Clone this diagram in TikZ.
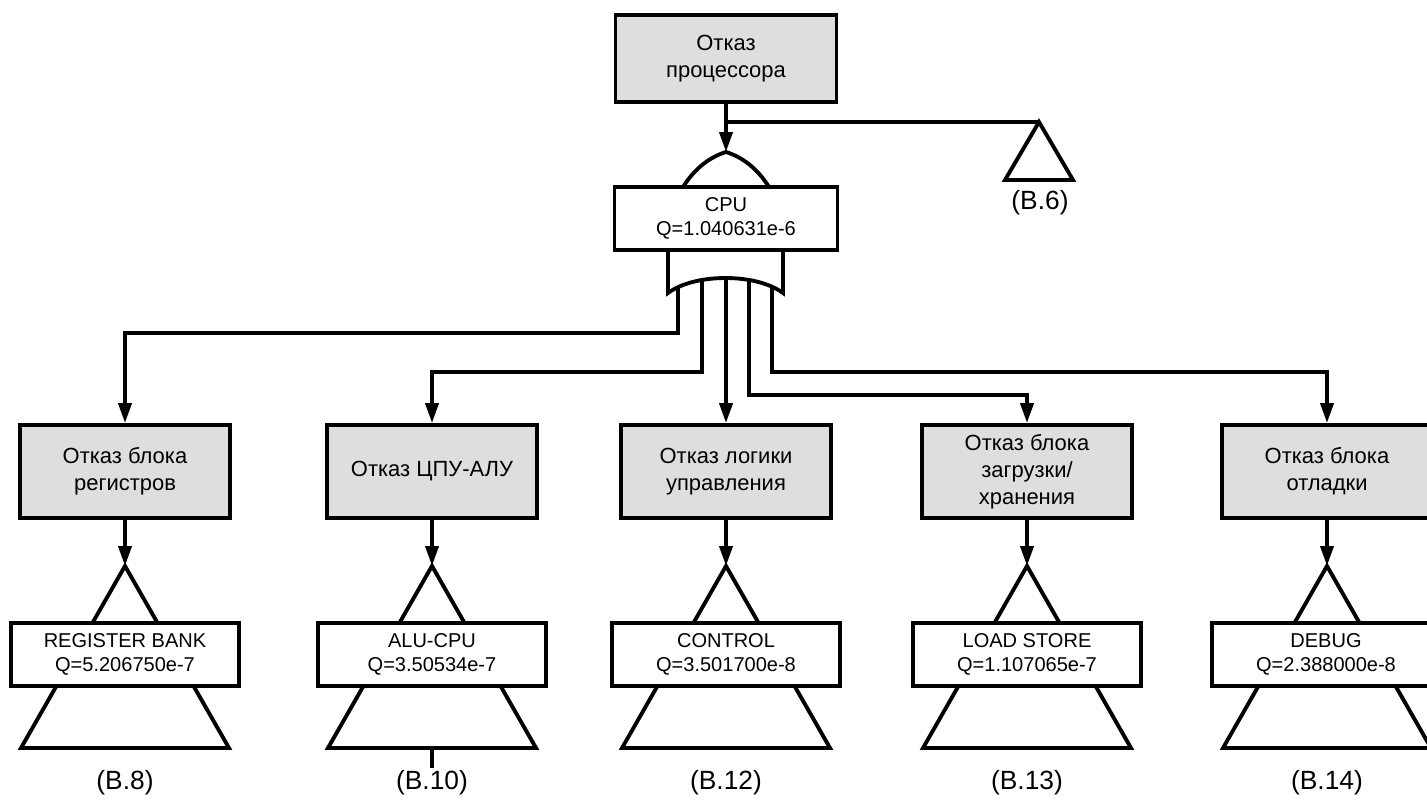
\documentclass[tikz,border=0pt]{standalone}
\usepackage{fontspec}
\setmainfont{Liberation Sans}
\usepackage{xcolor}
\usetikzlibrary{arrows.meta}
\definecolor{color_22101}{rgb}{0.870588,0.870588,0.870588}

\begin{document}
\begin{tikzpicture}[x=0.02cm, y=-0.02cm, line width=2.2pt,
	greybox/.style={draw, fill=color_22101, minimum width=4.2cm, minimum height=1.86cm, align=center, inner sep=2pt, font=\fontsize{12.5}{15.4}\selectfont},
	eventbox/.style={draw, fill=white, minimum width=4.56cm, minimum height=1.26cm, align=center, inner sep=2pt, font=\fontsize{11.4}{13.6}\selectfont},
	reflabel/.style={font=\fontsize{15}{18}\selectfont},
	arr/.style={-{Triangle[length=0.4cm, width=0.26cm]}}]
		% Cadre de l'image
		\useasboundingbox (0,0) rectangle (1427,802);
		\clip (0,0) rectangle (1427,802);
		
		% Evénement principal
		\node[greybox, minimum width=4.42cm, minimum height=1.74cm] (top) at (726,58.5) {Отказ\\процессора};
		
		% Porte OU - entrée
		\coordinate (orin) at (726,152);
		\draw (683,187) .. controls (695,168) and (710,157) .. (orin) .. controls (742,157) and (757,168) .. (769,187);
		\node[eventbox, minimum width=4.46cm] (cpu) at (726,218.5) {CPU\\Q=1.040631e-6};
		\draw[arr] (top.south) -- (orin);
		
		% Renvoi (B.6)
		\coordinate (br) at (726,122);
		\coordinate (t6) at (1039,122);
		\draw (br) -- (t6);
		\draw (t6) -- (1073,180) -- (1005,180) -- cycle;
		\node[reflabel] (l6) at (1040,203) {(B.6)};
		
		% Porte OU - sorties
		\draw (668,250) -- (668,293) .. controls (695,273) and (756,273) .. (783,293) -- (783,250);
		\coordinate (or1) at (678,287);
		\coordinate (or2) at (702,280);
		\coordinate (or3) at (726,278);
		\coordinate (or4) at (749,280);
		\coordinate (or5) at (772,287);
		
		% Bloc des registres
		\node[greybox] (b1) at (125,471.5) {Отказ блока\\регистров};
		\coordinate (t1) at (125,566);
		\draw (t1) -- (229,748) -- (21,748) -- cycle;
		\node[eventbox] (e1) at (125,654.5) {REGISTER BANK\\Q=5.206750e-7};
		\draw[arr] (b1.south) -- (t1);
		\node[reflabel] (l1) at (125,783) {(B.8)};
		
		% Bloc ЦПУ-АЛУ
		\node[greybox] (b2) at (432,471.5) {Отказ ЦПУ-АЛУ};
		\coordinate (t2) at (432,566);
		\draw (t2) -- (536,748) -- (328,748) -- cycle;
		\node[eventbox] (e2) at (432,654.5) {ALU-CPU\\Q=3.50534e-7};
		\draw[arr] (b2.south) -- (t2);
		\coordinate (t2b) at (432,748);
		\coordinate (k2) at (432,768);
		\draw (t2b) -- (k2);
		\node[reflabel] (l2) at (432,783) {(B.10)};
		
		% Logique de commande
		\node[greybox] (b3) at (726,471.5) {Отказ логики\\управления};
		\coordinate (t3) at (726,566);
		\draw (t3) -- (830,748) -- (622,748) -- cycle;
		\node[eventbox] (e3) at (726,654.5) {CONTROL\\Q=3.501700e-8};
		\draw[arr] (b3.south) -- (t3);
		\node[reflabel] (l3) at (726,783) {(B.12)};
		
		% Chargement / stockage
		\node[greybox] (b4) at (1027,471.5) {Отказ блока\\загрузки/\\хранения};
		\coordinate (t4) at (1027,566);
		\draw (t4) -- (1131,748) -- (923,748) -- cycle;
		\node[eventbox] (e4) at (1027,654.5) {LOAD STORE\\Q=1.107065e-7};
		\draw[arr] (b4.south) -- (t4);
		\node[reflabel] (l4) at (1027,783) {(B.13)};
		
		% Débogage
		\node[greybox] (b5) at (1327,471.5) {Отказ блока\\отладки};
		\coordinate (t5) at (1327,566);
		\draw (t5) -- (1431,748) -- (1223,748) -- cycle;
		\node[eventbox] (e5) at (1326,654.5) {DEBUG\\Q=2.388000e-8};
		\draw[arr] (b5.south) -- (t5);
		\node[reflabel] (l5) at (1327,783) {(B.14)};
		
		% Liaisons porte - blocs
		\draw[arr] (or1) -- ++(0,46) -| (b1.north);
		\draw[arr] (or2) -- ++(0,92) -| (b2.north);
		\draw[arr] (or3) -- (b3.north);
		\draw[arr] (or4) -- ++(0,115) -| (b4.north);
		\draw[arr] (or5) -- ++(0,85) -| (b5.north);
	\end{tikzpicture}
\end{document}
